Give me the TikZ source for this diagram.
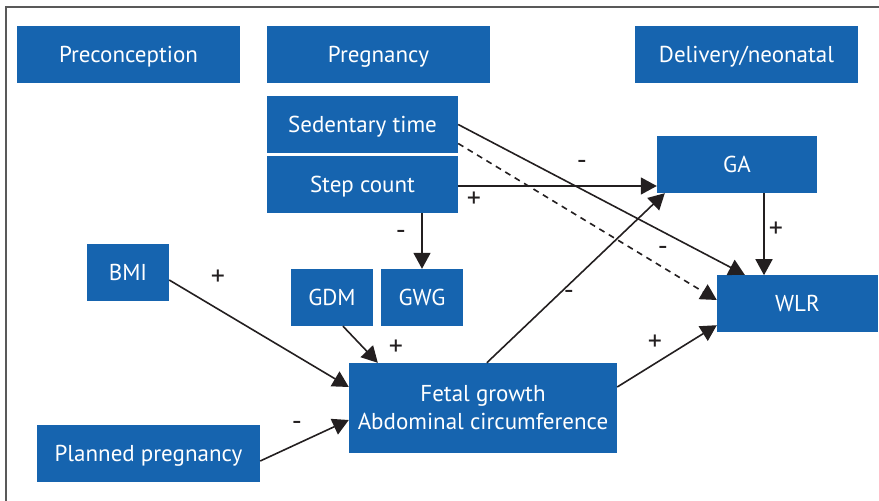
\documentclass[tikz,border=0pt]{standalone}
\usepackage{fontspec}
\setmainfont{PT Sans}
\usetikzlibrary{arrows.meta,calc}
\definecolor{boxblue}{RGB}{22,100,175}
\definecolor{ink}{RGB}{35,31,32}
\tikzset{
  x=1pt, y=-1pt,
  box/.style={fill=boxblue, text=white, inner sep=0pt, font=\fontsize{23}{27}\selectfont, align=center},
  onebox/.style={box, text depth=0pt},
  conn/.style={draw=ink, line width=1.6pt, -{Triangle[length=16pt,width=17pt]}},
  sign/.style={text=ink, font=\fontsize{28}{30}\selectfont, inner sep=0pt}
}
\begin{document}
\begin{tikzpicture}
\useasboundingbox (0,0) rectangle (879,501);
\draw[draw=black!65, line width=1.2pt] (879,7) -- (6,7) -- (6,501);
% headers
\node[onebox, minimum width=223pt, minimum height=57pt] (pre) at (128.5,54.5) {Preconception};
\node[onebox, minimum width=223pt, minimum height=57pt] (preg) at (378.5,54.5) {Pregnancy};
\node[onebox, minimum width=223pt, minimum height=57pt] (deliv) at (746.5,54.5) {Delivery/neonatal};
% pregnancy
\node[onebox, minimum width=191pt, minimum height=57pt] (sed) at (362.5,124.5) {Sedentary time};
\node[onebox, minimum width=191pt, minimum height=57pt] (step) at (362.5,184.5) {Step count};
\node[onebox, minimum width=82pt, minimum height=57pt] (gdm) at (332,297.5) {GDM};
\node[onebox, minimum width=82pt, minimum height=57pt] (gwg) at (422,297.5) {GWG};
\node[onebox, minimum width=82pt, minimum height=57pt] (bmi) at (128,272.5) {BMI};
\node[onebox, minimum width=223pt, minimum height=57pt] (plan) at (148.5,453.5) {Planned pregnancy};
\node[box, minimum width=268pt, minimum height=90pt, font=\fontsize{23}{28}\selectfont] (fetal) at (483,408) {Fetal growth\\Abdominal circumference};
\node[onebox, minimum width=160pt, minimum height=57pt] (ga) at (737,164.5) {GA};
\node[onebox, minimum width=161pt, minimum height=57pt] (wlr) at (797.5,303.5) {WLR};
% connectors
\draw[conn] (sed.east) -- ($(wlr.north west)+(28,0)$);
\draw[conn, dashed, dash pattern=on 6pt off 5pt] ($(sed.east)+(0,19)$) -- ($(wlr.west)+(0,-3.5)$);
\draw[conn] ($(step.east)+(0,1.5)$) -- ($(step.east -| ga.west)+(0,1.5)$);
\draw[conn] (gwg.north |- step.south) -- (gwg.north);
\draw[conn] ($(ga.south)+(27,0)$) -- ($(ga.south)+(27,82)$);
\draw[conn] ($(bmi.east)+(0,7.5)$) -- ($(fetal.west)+(0,-21)$);
\draw[conn] ($(plan.east)+(0,7.5)$) -- ($(fetal.west)+(0,12)$);
\draw[conn] ($(gdm.south)+(11,0)$) -- ($(fetal.north west)+(29,0)$);
\draw[conn] ($(fetal.north west)+(138,0)$) -- ($(ga.south west)+(8,0)$);
\draw[conn] ($(fetal.east)+(0,-21)$) -- ($(wlr.south west)+(0,-7)$);
% signs
\node[sign] (s1) at (582,165) {-};
\node[sign] (s2) at (474,200) {+};
\node[sign] (s3) at (401,235) {-};
\node[sign] (s4) at (776,230) {+};
\node[sign] (s5) at (663,251) {-};
\node[sign] (s6) at (569,295) {-};
\node[sign] (s7) at (655,343) {+};
\node[sign] (s8) at (218,278) {+};
\node[sign] (s9) at (396,348) {+};
\node[sign] (s10) at (297,426) {-};
\end{tikzpicture}
\end{document}
